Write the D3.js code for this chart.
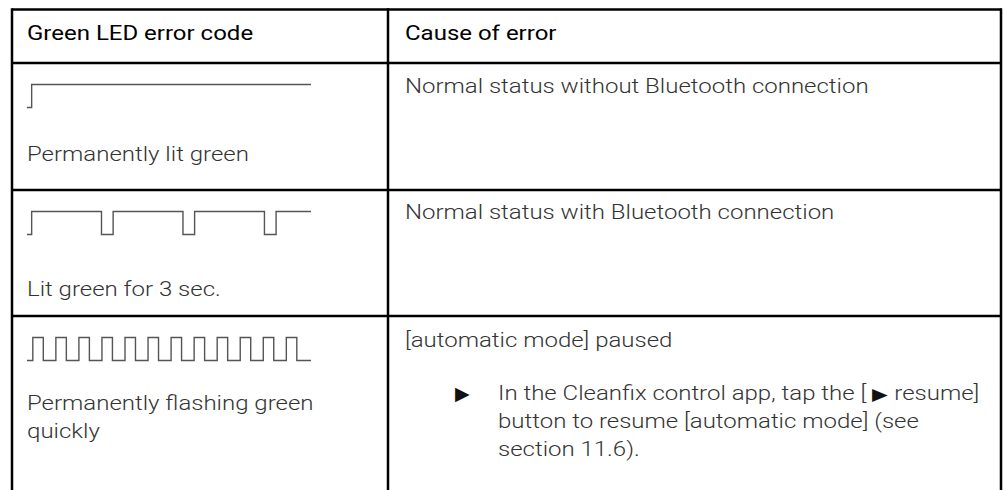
<!DOCTYPE html>
<html><head><meta charset="utf-8">
<script src="https://cdn.jsdelivr.net/npm/d3@7/dist/d3.min.js"></script>
<style>
html,body{margin:0;padding:0;background:#fff;}
svg{display:block;}
</style></head>
<body>
<script>
// ---- data ----
const headers = ["Green LED error code", "Cause of error"];
const codeLabels = [["Permanently lit green"], ["Lit green for 3 sec."], ["Permanently flashing green", "quickly"]];
const causes = ["Normal status without Bluetooth connection", "Normal status with Bluetooth connection", "[automatic mode] paused"];
const actionLines = ["In the Cleanfix control app, tap the [\u25B6 resume]", "button to resume [automatic mode] (see", "section 11.6)."];
// waveform transitions: [time in s, level 0/1]
const wavePermanent = [[0,0],[0.2,1],[12.2,1]];
const waveLit3s = [[0,0],[0.2,1],[3.2,0],[3.7,1],[6.7,0],[7.2,1],[10.2,0],[10.7,1],[12.2,1]];
const waveFlash = [[0,0],[0.25,1],[0.7,0],[1.24,1],[1.69,0],[2.23,1],[2.68,0],[3.22,1],[3.67,0],[4.21,1],[4.66,0],
  [5.2,1],[5.65,0],[6.19,1],[6.64,0],[7.18,1],[7.63,0],[8.17,1],[8.62,0],[9.16,1],[9.61,0],[10.15,1],[10.6,0],
  [11.14,1],[11.59,0],[12.2,0]];
const waves = [wavePermanent, waveLit3s, waveFlash];

// ---- layout ----
const W = 1003, H = 490;
const xL = 12, xC = 388, xR = 1001;
const yTop = 9.5, yHead = 63;
const rowTops = [63, 190, 316];
const labelBaselines = [[161], [296], [410, 438]];
const causeBaselines = [93, 219, 347];
const SX = 1.2;

const svg = d3.select("body").append("svg").attr("width", W).attr("height", H);

const x = d3.scaleLinear().domain([0, 12.2]).range([27, 311]);
const line = d3.line().curve(d3.curveStepAfter);

function txt(tx, ty, s, opts) {
  opts = opts || {};
  const t = svg.append("text")
    .attr("transform", `translate(${tx},${ty}) scale(${SX},1)`)
    .attr("font-family", opts.family || "Roboto")
    .attr("font-weight", opts.weight || 300)
    .attr("font-size", opts.size || 20)
    .attr("fill", opts.fill || "#333");
  const parts = s.split("\u25B6");
  parts.forEach((p, k) => {
    if (k > 0) {
      t.append("tspan").attr("dx", 5).attr("font-family", "DejaVu Sans").attr("font-size", 17)
        .attr("fill", "#111").text("\u25B6");
      t.append("tspan").text(p);
    } else {
      t.append("tspan").text(p);
    }
  });
  return t;
}

// grid lines
const g = svg.append("g").attr("stroke", "#000").attr("stroke-width", 2.5).attr("fill", "none");
g.append("line").attr("x1", xL).attr("x2", xR).attr("y1", yTop).attr("y2", yTop);
[yHead, rowTops[1], rowTops[2]].forEach(yy => g.append("line").attr("x1", xL).attr("x2", xR).attr("y1", yy).attr("y2", yy));
[xL, xC, xR].forEach(xx => g.append("line").attr("x1", xx).attr("x2", xx).attr("y1", yTop - 1.25).attr("y2", H));

// headers
headers.forEach((h, i) => txt(i === 0 ? 27 : 405, 40, h, {weight: 400, fill: "#000"}));

// rows
waves.forEach((w, i) => {
  const top = rowTops[i];
  const y = d3.scaleLinear().domain([0, 1]).range([top + 44.5, top + 21.5]);
  svg.append("path")
    .attr("d", line.x(d => x(d[0])).y(d => y(d[1]))(w))
    .attr("fill", "none").attr("stroke", "#555").attr("stroke-width", 1.4);
  codeLabels[i].forEach((t, j) => txt(27, labelBaselines[i][j], t));
  txt(405, causeBaselines[i], causes[i]);
});

// action bullet
const actY = [400, 428, 456];
svg.append("text").attr("x", 455).attr("y", actY[0])
  .attr("font-family", "DejaVu Sans").attr("font-size", 19).attr("fill", "#111").text("\u25B6");
actionLines.forEach((t, j) => txt(498, actY[j], t));
</script>
</body></html>
